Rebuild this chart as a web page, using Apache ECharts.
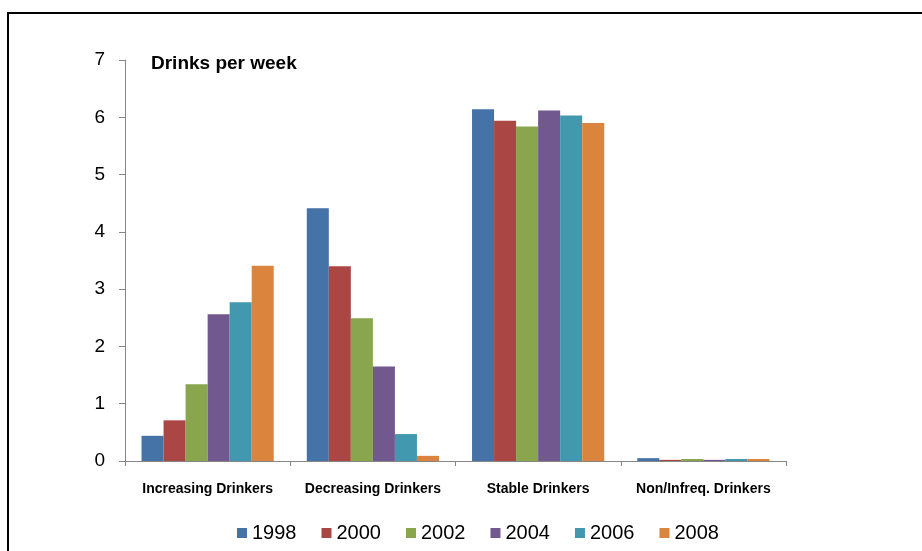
<!DOCTYPE html>
<html>
<head>
<meta charset="utf-8">
<script src="https://cdn.jsdelivr.net/npm/echarts@6/dist/echarts.min.js"></script>
<style>
  html, body { margin: 0; padding: 0; background: #fff; }
  #frame {
    position: absolute; left: 7px; top: 12px; width: 940px; height: 560px;
    border-left: 2px solid #000; border-top: 2px solid #000;
  }
  #chart { position: absolute; left: 0; top: 0; width: 922px; height: 551px; }
</style>
</head>
<body>
<div id="frame"></div>
<div id="chart"></div>
<script>
const categories = ["Increasing Drinkers", "Decreasing Drinkers", "Stable Drinkers", "Non/Infreq. Drinkers"];
const years = ["1998", "2000", "2002", "2004", "2006", "2008"];
const values1998 = [0.44, 4.41, 6.14, 0.05];
const values2000 = [0.71, 3.40, 5.94, 0.02];
const values2002 = [1.34, 2.49, 5.84, 0.035];
const values2004 = [2.56, 1.65, 6.12, 0.02];
const values2006 = [2.77, 0.47, 6.03, 0.035];
const values2008 = [3.41, 0.09, 5.90, 0.035];
const yTicks = [0, 1, 2, 3, 4, 5, 6, 7];

const colors = ["#4572A7", "#AA4643", "#89A54E", "#71588F", "#4198AF", "#DB843D"];
const seriesValues = [values1998, values2000, values2002, values2004, values2006, values2008];
const fontFam = "'Liberation Sans', Arial, sans-serif";

const chart = echarts.init(document.getElementById("chart"));

const option = {
  backgroundColor: "transparent",
  animation: false,
  color: colors,
  title: {
    text: "Drinks per week",
    left: 146,
    top: 49,
    textStyle: { fontFamily: fontFam, fontSize: 19, fontWeight: "bold", color: "#000" },
  },
  legend: {
    data: years,
    top: 518,
    left: 232,
    itemWidth: 10,
    itemHeight: 10,
    itemGap: 25,
    icon: "rect",
    textStyle: { fontFamily: fontFam, fontSize: 20, color: "#000" },
  },
  grid: { left: 125, right: 136, top: 60, bottom: 90, containLabel: false },
  xAxis: {
    type: "category",
    data: categories,
    axisLine: { lineStyle: { color: "#868686", width: 1 } },
    axisTick: { show: true, length: 5, interval: 0, alignWithLabel: false, lineStyle: { color: "#868686" } },
    axisLabel: { interval: 0, margin: 21, fontFamily: fontFam, fontSize: 14, fontWeight: "bold", color: "#000" },
  },
  yAxis: {
    type: "value",
    min: yTicks[0],
    max: yTicks[yTicks.length - 1],
    interval: 1,
    axisLine: { show: true, lineStyle: { color: "#868686", width: 1 } },
    axisTick: { show: true, length: 6, lineStyle: { color: "#868686" } },
    splitLine: { show: false },
    axisLabel: { margin: 20, fontFamily: fontFam, fontSize: 19, color: "#000" },
  },
  series: years.map((y, i) => ({
    name: y,
    type: "bar",
    data: seriesValues[i],
    barGap: "0%",
    barCategoryGap: "20%",
    itemStyle: { color: colors[i] },
  })),
};

chart.setOption(option);
window.addEventListener("resize", () => chart.resize());
</script>
</body>
</html>
